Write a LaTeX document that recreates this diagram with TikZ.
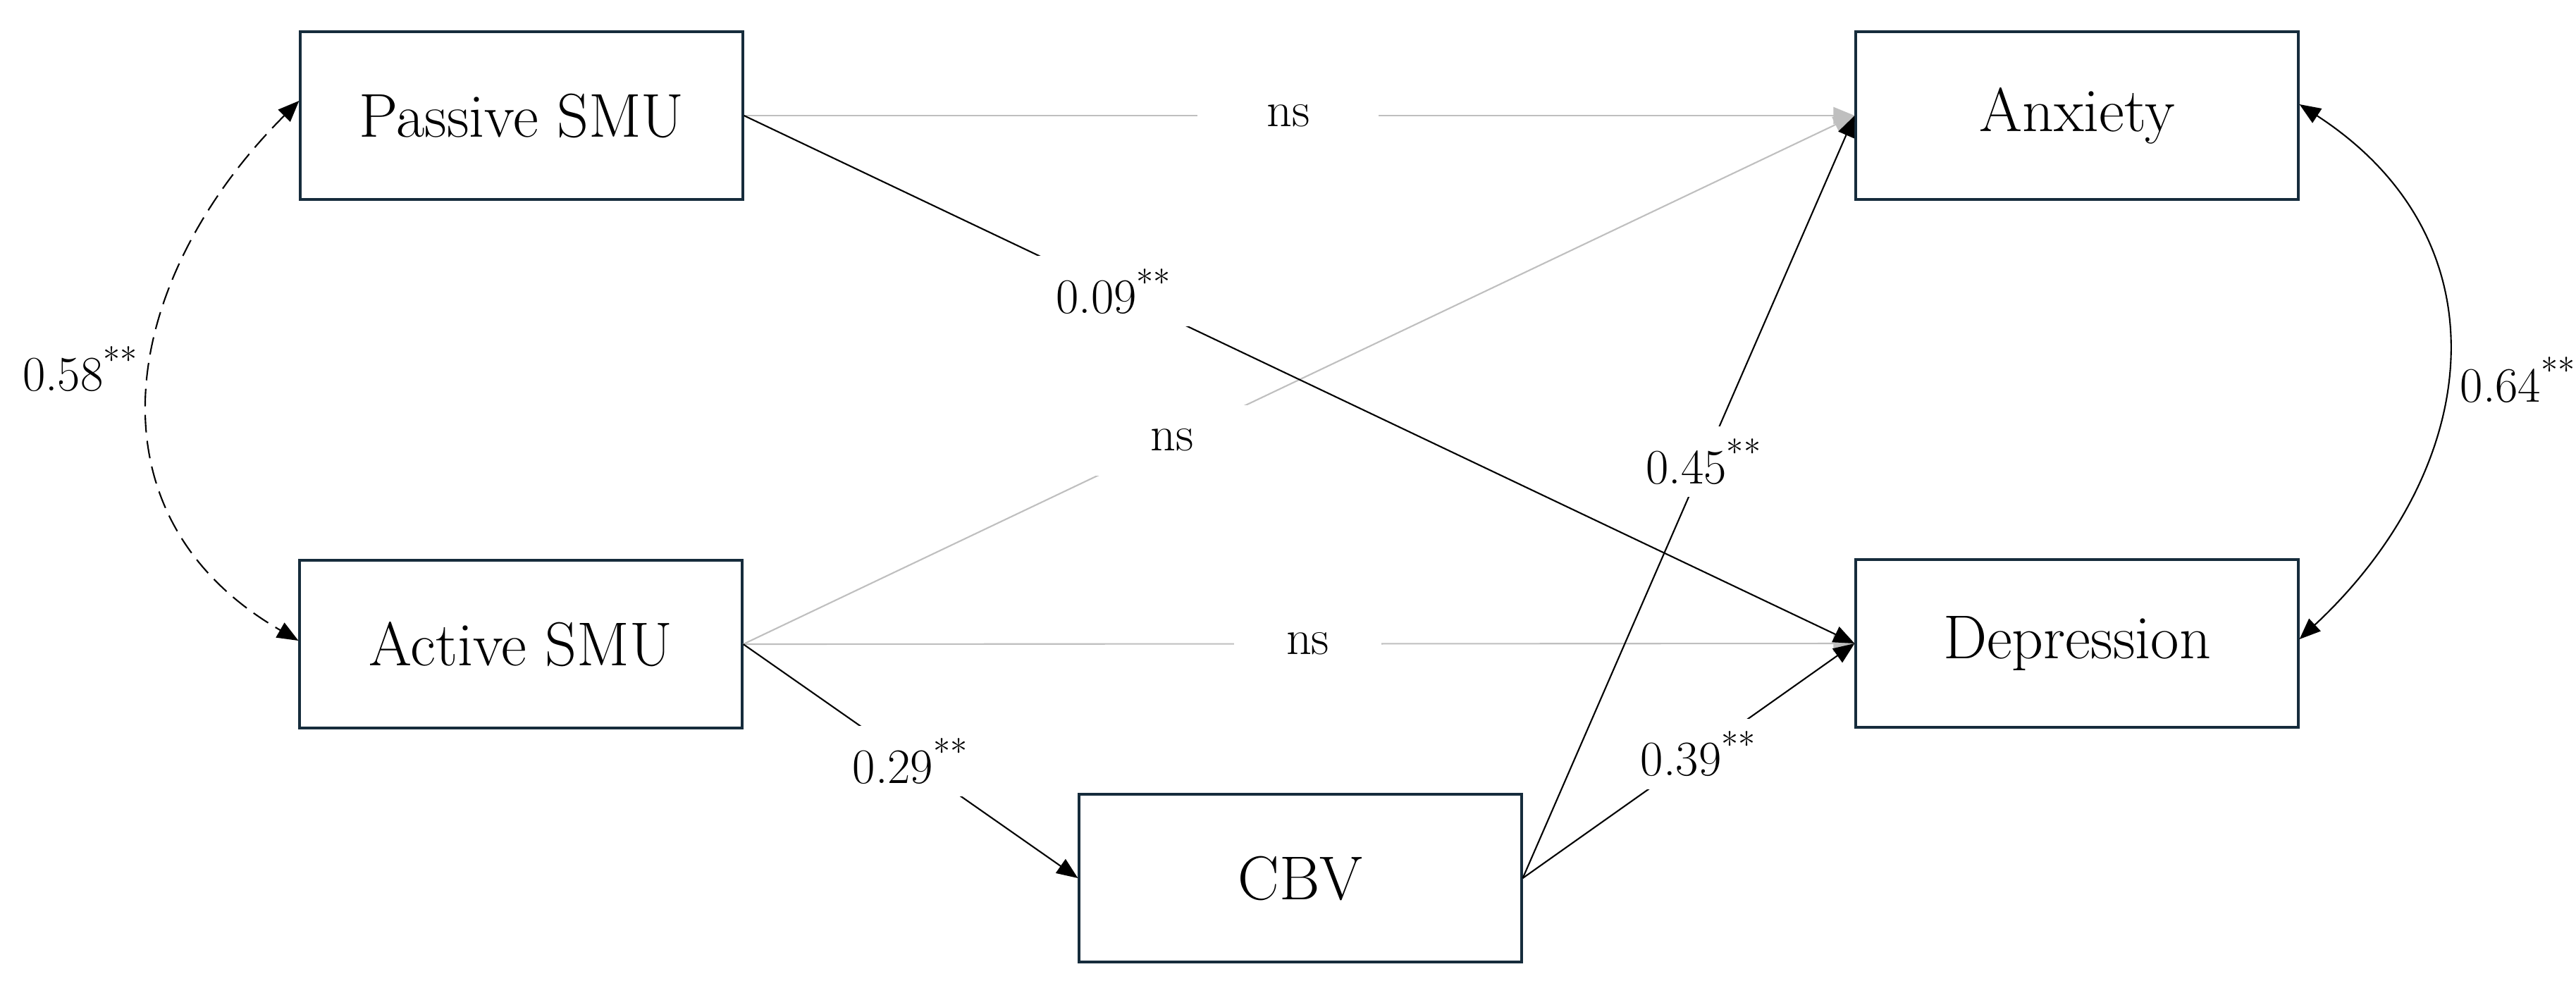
\documentclass[tikz,border=0pt]{standalone}
\usepackage{fontspec}
\usetikzlibrary{arrows.meta}
\definecolor{boxline}{RGB}{22,44,60}
\definecolor{nsgray}{RGB}{191,191,191}
\begin{document}
\begin{tikzpicture}[
  var/.style={draw=boxline, line width=0.9pt, minimum width=6.28cm, minimum height=2.38cm, inner sep=0pt, font=\fontsize{25}{30}\selectfont},
  tipa/.tip={Triangle[length=3mm,width=2.4mm]},
  conn/.style={line width=0.6pt, -tipa},
  nsconn/.style={conn, draw=nsgray},
  coef/.style={fill=white, inner sep=0pt, minimum height=1cm, minimum width=2.3cm, font=\fontsize{20}{24}\selectfont, text=black},
  corr/.style={line width=0.6pt, tipa-tipa},
  corrlabel/.style={inner sep=0pt, font=\fontsize{20}{24}\selectfont}
]
\useasboundingbox (0,0) rectangle (36.55,-14.08);

\node[var] (ps) at (7.40,-1.64) {Passive SMU};
\node[var] (as) at (7.39,-9.14) {Active SMU};
\node[var] (ax) at (29.47,-1.64) {Anxiety};
\node[var] (dp) at (29.47,-9.13) {Depression};
\node[var] (cbv) at (18.45,-12.46) {CBV};

% non-significant paths
\draw[nsconn] (ps.east) -- node[coef, pos=0.49, minimum width=2.57cm] (l1) {ns} (ax.west);
\draw[nsconn] (as.east) -- node[coef, pos=0.386] (l2) {ns} (ax.west);
\draw[nsconn] (as.east) -- node[coef, pos=0.508, minimum width=2.09cm] (l3) {ns} (dp.west);

% significant paths
\draw[conn] (ps.east) -- node[coef, pos=0.333] (l4) {0.09\textsuperscript{**}} (dp.west);
\draw[conn] (as.east) -- node[coef, pos=0.5] (l5) {0.29\textsuperscript{**}} (cbv.west);
\draw[conn] (cbv.east) -- node[coef, pos=0.546] (l6) {0.45\textsuperscript{**}} (ax.west);
\draw[conn] (cbv.east) -- node[coef, pos=0.53] (l7) {0.39\textsuperscript{**}} (dp.west);

% correlations
\draw[corr, dash pattern=on 2.5mm off 1.2mm] ([yshift=2.1mm]ps.west) to[out=225, in=150, looseness=1.2]
  node[corrlabel, midway, left=1.5mm, yshift=3mm] (l8) {0.58\textsuperscript{**}} ([yshift=0.5mm]as.west);
\draw[corr] ([yshift=1.6mm]ax.east) to[out=-33, in=43, looseness=1.2]
  node[corrlabel, midway, right=1.8mm, yshift=-3mm] (l9) {0.64\textsuperscript{**}} ([yshift=0.6mm]dp.east);
\end{tikzpicture}
\end{document}
